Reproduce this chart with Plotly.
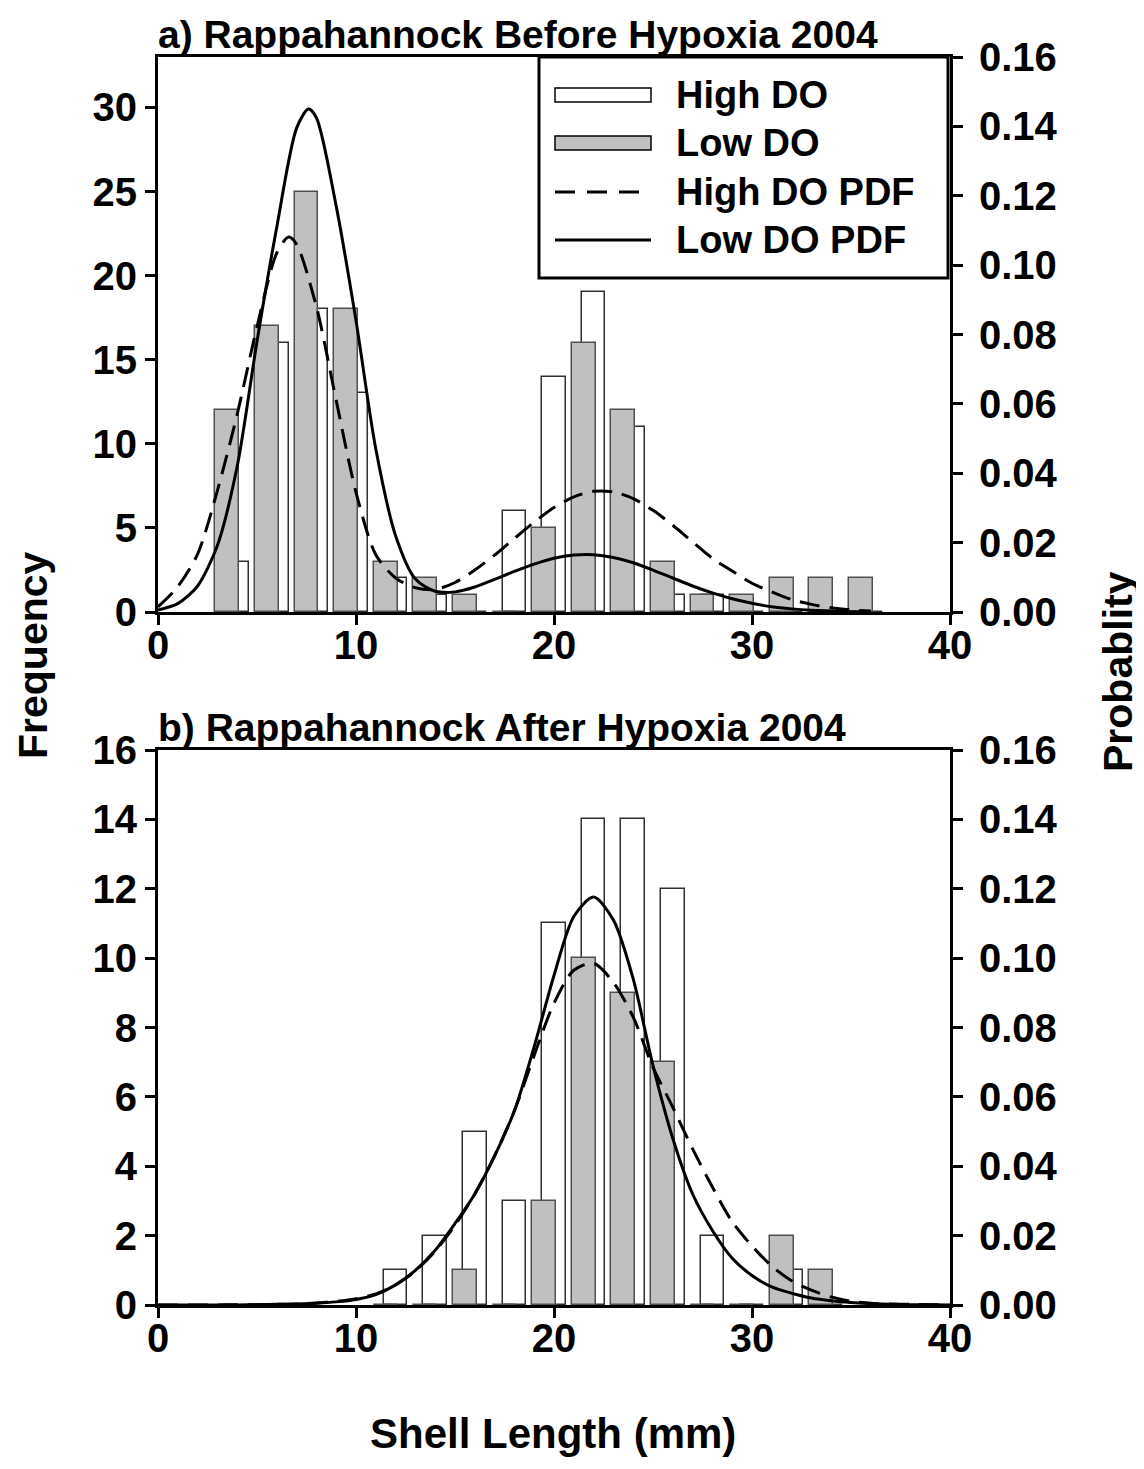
import plotly.graph_objects as go

# ---------------- data ----------------
# panel a) Before hypoxia: 2-mm bins (label = upper bin value)
top_bins = [4, 6, 8, 10, 12, 14, 16, 18, 20, 22, 24, 26, 28, 30, 32, 34, 36]
top_high_do = [3, 16, 18, 13, 2, 1, 0, 6, 14, 19, 11, 1, 1, 0, 0, 0, 0]
top_low_do = [12, 17, 25, 18, 3, 2, 1, 0, 5, 16, 12, 3, 1, 1, 2, 2, 2]

top_high_pdf_x = [0, 1, 2, 3, 4, 5, 6, 6.6, 7, 8, 9, 10, 11, 12, 13, 14, 15, 16, 17, 18,
                  19, 20, 21, 22, 23, 24, 25, 26, 27, 28, 29, 30, 31, 32, 33, 34, 35, 36]
top_high_pdf = [0.0015, 0.0073, 0.0167, 0.035, 0.057, 0.0822, 0.1035, 0.1081, 0.106, 0.088,
                0.061, 0.0345, 0.0165, 0.0098, 0.0070, 0.0065, 0.0085, 0.0121, 0.0164, 0.0212,
                0.0259, 0.0301, 0.0332, 0.0348, 0.0346, 0.0327, 0.0293, 0.0250, 0.0202, 0.0155,
                0.0118, 0.0083, 0.0058, 0.0036, 0.0022, 0.0012, 0.0006, 0.0003]

top_low_pdf_x = [0, 1, 2, 3, 4, 5, 6, 7, 7.6, 8, 9, 10, 11, 12, 13, 14, 15, 16, 17, 18,
                 19, 20, 21, 22, 23, 24, 25, 26, 27, 28, 29, 30, 31, 32, 33, 34, 35, 36]
top_low_pdf = [0.0006, 0.0024, 0.0075, 0.0192, 0.0420, 0.078, 0.111, 0.1395, 0.145, 0.1425,
               0.117, 0.084, 0.047, 0.022, 0.0095, 0.0060, 0.0058, 0.0072, 0.0094, 0.0117,
               0.0138, 0.0155, 0.0164, 0.0165, 0.0157, 0.0142, 0.0121, 0.0098, 0.0075, 0.0055,
               0.0038, 0.0025, 0.0015, 0.0009, 0.0005, 0.0003, 0.0001, 0.0001]

# panel b) After hypoxia
bot_bins = [12, 14, 16, 18, 20, 22, 24, 26, 28, 30, 32, 34]
bot_high_do = [1, 2, 5, 3, 11, 14, 14, 12, 2, 0, 1, 0]
bot_low_do = [0, 0, 1, 0, 3, 10, 9, 7, 0, 0, 2, 1]

bot_pdf_x = list(range(0, 41))
bot_high_pdf = [0, 0, 0, 0, 0.0001, 0.0001, 0.0002, 0.0003, 0.0006, 0.0010, 0.0018, 0.0032,
                0.0058, 0.0098, 0.0155, 0.0230, 0.0320, 0.0430, 0.0560, 0.0720, 0.0870,
                0.0965, 0.0985, 0.0930, 0.0830, 0.0685, 0.0570, 0.0450, 0.0340, 0.0240,
                0.0170, 0.0112, 0.0070, 0.0043, 0.0023, 0.0011, 0.0005, 0.0003, 0.0002,
                0.0001, 0]
bot_low_pdf = [0, 0, 0, 0, 0, 0.0001, 0.0002, 0.0003, 0.0005, 0.0009, 0.0016, 0.0030,
               0.0058, 0.0100, 0.0158, 0.0235, 0.0320, 0.0430, 0.0560, 0.0745, 0.0950,
               0.1120, 0.1176, 0.1110, 0.0940, 0.0690, 0.0480, 0.0320, 0.0215, 0.0135,
               0.0085, 0.0052, 0.0034, 0.0020, 0.0012, 0.0007, 0.0004, 0.0002, 0.0001,
               0.0001, 0]

x_ticks = [0, 10, 20, 30, 40]
top_freq_ticks = [0, 5, 10, 15, 20, 25, 30]
bot_freq_ticks = [0, 2, 4, 6, 8, 10, 12, 14, 16]
prob_ticks = [0.00, 0.02, 0.04, 0.06, 0.08, 0.10, 0.12, 0.14, 0.16]

legend_labels = ["High DO", "Low DO", "High DO PDF", "Low DO PDF"]
titles = ["a) Rappahannock Before Hypoxia 2004", "b) Rappahannock After Hypoxia 2004"]

# ---------------- styling ----------------
PAGE_OFF = 8                      # default body margin of the html page
W, H = 1144 - PAGE_OFF, 1469 - PAGE_OFF
FONT = "Liberation Sans"
GRAY = "#c0c0c0"
DASH = "20px,10px"

def px(xp):
    return (xp - PAGE_OFF) / W

def py(yp):
    return 1 - (yp - PAGE_OFF) / H

fig = go.Figure()

bar_line_white = dict(color="#303030", width=1.5)
bar_line_gray = dict(color="#505050", width=1.5)

# panel a
fig.add_trace(go.Bar(x=top_bins, y=top_high_do, width=1.2, offset=-0.6,
                     marker=dict(color="white", line=bar_line_white),
                     xaxis="x", yaxis="y", showlegend=False))
fig.add_trace(go.Bar(x=top_bins, y=top_low_do, width=1.2, offset=-1.1,
                     marker=dict(color=GRAY, line=bar_line_gray),
                     xaxis="x", yaxis="y", showlegend=False))
fig.add_trace(go.Scatter(x=top_high_pdf_x, y=top_high_pdf, mode="lines",
                         line=dict(color="black", width=3, dash=DASH, shape="spline", smoothing=0.8),
                         xaxis="x", yaxis="y2", showlegend=False))
fig.add_trace(go.Scatter(x=top_low_pdf_x, y=top_low_pdf, mode="lines",
                         line=dict(color="black", width=3, shape="spline", smoothing=0.8),
                         xaxis="x", yaxis="y2", showlegend=False))

# panel b
fig.add_trace(go.Bar(x=bot_bins, y=bot_high_do, width=1.2, offset=-0.6,
                     marker=dict(color="white", line=bar_line_white),
                     xaxis="x2", yaxis="y3", showlegend=False))
fig.add_trace(go.Bar(x=bot_bins, y=bot_low_do, width=1.2, offset=-1.1,
                     marker=dict(color=GRAY, line=bar_line_gray),
                     xaxis="x2", yaxis="y3", showlegend=False))
fig.add_trace(go.Scatter(x=bot_pdf_x, y=bot_high_pdf, mode="lines",
                         line=dict(color="black", width=3, dash=DASH, shape="spline", smoothing=0.8),
                         xaxis="x2", yaxis="y4", showlegend=False))
fig.add_trace(go.Scatter(x=bot_pdf_x, y=bot_low_pdf, mode="lines",
                         line=dict(color="black", width=3, shape="spline", smoothing=0.8),
                         xaxis="x2", yaxis="y4", showlegend=False))

tickfont = dict(family=FONT, size=40, color="black", weight="bold")
common = dict(showgrid=False, zeroline=False, showline=True, linecolor="black", linewidth=3,
              ticks="outside", ticklen=10, tickwidth=3, tickcolor="black", tickfont=tickfont,
              automargin=False)

xdom = [px(158), px(950)]
top_dom = [py(612), py(57)]
bot_dom = [py(1305), py(750)]

fig.update_layout(
    width=W, height=H,
    margin=dict(l=0, r=0, t=0, b=0, autoexpand=False),
    paper_bgcolor="white", plot_bgcolor="white",
    barmode="overlay", bargap=0,
    xaxis=dict(domain=xdom, range=[0, 40], tickvals=x_ticks, anchor="y", mirror=True,
               ticklabelstandoff=-14, **common),
    yaxis=dict(domain=top_dom, range=[0, 33], tickvals=top_freq_ticks, anchor="x", **common),
    yaxis2=dict(range=[0, 0.16], tickvals=prob_ticks, tickformat=".2f", overlaying="y",
                side="right", anchor="x", ticklabelstandoff=8, **common),
    xaxis2=dict(domain=xdom, range=[0, 40], tickvals=x_ticks, anchor="y3", mirror=True,
                ticklabelstandoff=-14, **common),
    yaxis3=dict(domain=bot_dom, range=[0, 16], tickvals=bot_freq_ticks, anchor="x2", **common),
    yaxis4=dict(range=[0, 0.16], tickvals=prob_ticks, tickformat=".2f", overlaying="y3",
                side="right", anchor="x2", ticklabelstandoff=8, **common),
)

shapes = []
annotations = []

# manual legend (panel a)
shapes.append(dict(type="rect", xref="paper", yref="paper", x0=px(539), x1=px(948),
                   y0=py(278), y1=py(57), line=dict(color="black", width=3),
                   fillcolor="white", layer="above"))
rows = [95, 143, 192, 240]
shapes.append(dict(type="rect", xref="paper", yref="paper", x0=px(555), x1=px(651),
                   y0=py(rows[0] + 7), y1=py(rows[0] - 7),
                   line=dict(color="black", width=1.5), fillcolor="white", layer="above"))
shapes.append(dict(type="rect", xref="paper", yref="paper", x0=px(555), x1=px(651),
                   y0=py(rows[1] + 7), y1=py(rows[1] - 7),
                   line=dict(color="black", width=1.5), fillcolor=GRAY, layer="above"))
shapes.append(dict(type="line", xref="paper", yref="paper", x0=px(555), x1=px(651),
                   y0=py(rows[2]), y1=py(rows[2]),
                   line=dict(color="black", width=3, dash="20px,12px"), layer="above"))
shapes.append(dict(type="line", xref="paper", yref="paper", x0=px(555), x1=px(651),
                   y0=py(rows[3]), y1=py(rows[3]),
                   line=dict(color="black", width=3), layer="above"))
for lbl, r in zip(legend_labels, rows):
    annotations.append(dict(text=lbl, xref="paper", yref="paper", x=px(674), y=py(r),
                            xanchor="left", yanchor="middle", showarrow=False,
                            font=dict(family=FONT, size=38, color="black", weight="bold")))

# panel titles
tfont = dict(family=FONT, size=39, color="black", weight="bold")
annotations.append(dict(text=titles[0], xref="paper", yref="paper", x=px(156), y=py(34),
                        xanchor="left", yanchor="middle", showarrow=False, font=tfont))
annotations.append(dict(text=titles[1], xref="paper", yref="paper", x=px(156), y=py(727),
                        xanchor="left", yanchor="middle", showarrow=False, font=tfont))

# axis titles
axfont = dict(family=FONT, size=41, color="black", weight="bold")
annotations.append(dict(text="Frequency", xref="paper", yref="paper", x=px(33), y=py(655),
                        xanchor="center", yanchor="middle", textangle=-90, showarrow=False,
                        font=axfont))
annotations.append(dict(text="Probablity", xref="paper", yref="paper", x=px(1118), y=py(672),
                        xanchor="center", yanchor="middle", textangle=-90, showarrow=False,
                        font=axfont))
annotations.append(dict(text="Shell Length (mm)", xref="paper", yref="paper", x=px(553), y=py(1433),
                        xanchor="center", yanchor="middle", showarrow=False,
                        font=dict(family=FONT, size=42, color="black", weight="bold")))

fig.update_layout(shapes=shapes, annotations=annotations)

fig.write_html("out.html")
